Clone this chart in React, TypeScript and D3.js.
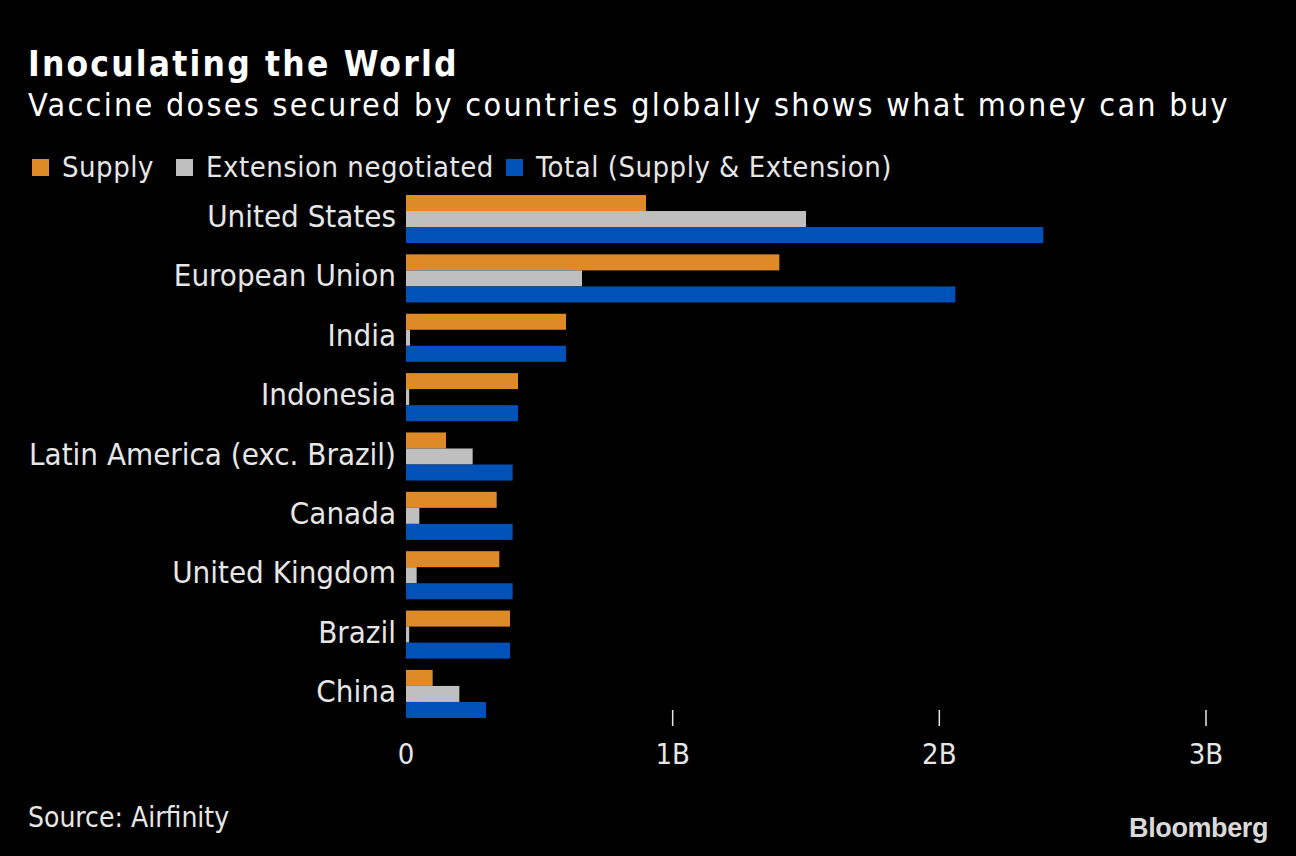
import React from "react";
import * as d3 from "d3";

const categories = [
  "United States",
  "European Union",
  "India",
  "Indonesia",
  "Latin America (exc. Brazil)",
  "Canada",
  "United Kingdom",
  "Brazil",
  "China",
];
const supply = [0.9, 1.4, 0.6, 0.42, 0.15, 0.34, 0.35, 0.39, 0.1];
const extension = [1.5, 0.66, 0.015, 0.012, 0.25, 0.05, 0.04, 0.012, 0.2];
const total = [2.39, 2.06, 0.6, 0.42, 0.4, 0.4, 0.4, 0.39, 0.3];
const seriesNames = ["Supply", "Extension negotiated", "Total (Supply & Extension)"];
const seriesColors = ["#dd8a27", "#bfbfbf", "#0051b8"];
const tickValues = [0, 1, 2, 3];
const tickLabels = ["0", "1B", "2B", "3B"];

const FONT = "'DejaVu Sans Condensed', 'Liberation Sans Narrow', 'DejaVu Sans', sans-serif";

export default function App() {
  const W = 1296, H = 856;
  const x = d3.scaleLinear().domain([0, 3]).range([406, 1206]);
  const y = d3.scaleBand().domain(categories).range([195, 718]).paddingInner(0.19).paddingOuter(0);
  const sub = d3.scaleBand().domain(seriesNames).range([0, y.bandwidth()]);
  const series = [supply, extension, total];
  const legendX = [32, 176, 506];

  return (
    <svg width={W} height={H} style={{ display: "block", position: "absolute", left: 0, top: 0, background: "#000" }}>
      <rect width={W} height={H} fill="#000" />
      <text x={28} y={76} fill="#fff" fontFamily={FONT} fontWeight="bold" fontSize={35} letterSpacing={2.2}>Inoculating the World</text>
      <text x={28} y={116} fill="#fff" fontFamily={FONT} fontSize={32} letterSpacing={2.3}>Vaccine doses secured by countries globally shows what money can buy</text>
      {seriesNames.map((s, i) => (
        <g key={s}>
          <rect x={legendX[i]} y={159} width={17} height={17} fill={seriesColors[i]} />
          <text x={legendX[i] + 30} y={177} fill="#e6e6e6" fontFamily={FONT} fontSize={29} letterSpacing={0.5}>{s}</text>
        </g>
      ))}
      {categories.map((c, ci) => (
        <g key={c}>
          <text x={396} y={(y(c) as number) + y.bandwidth() / 2 + 8} textAnchor="end" fill="#e6e6e6" fontFamily={FONT} fontSize={31}>{c}</text>
          {series.map((vals, si) => (
            <rect key={si} x={x(0)} y={(y(c) as number) + (sub(seriesNames[si]) as number)} width={x(vals[ci]) - x(0)} height={sub.bandwidth()} fill={seriesColors[si]} />
          ))}
        </g>
      ))}
      {tickValues.map((t, i) => (
        <g key={t}>
          {t > 0 && <line x1={x(t)} x2={x(t)} y1={710} y2={726} stroke="#e6e6e6" strokeWidth={1.5} />}
          <text x={x(t)} y={764} textAnchor="middle" fill="#e6e6e6" fontFamily={FONT} fontSize={29}>{tickLabels[i]}</text>
        </g>
      ))}
      <text x={28} y={827} fill="#e6e6e6" fontFamily={FONT} fontSize={28}>Source: Airfinity</text>
      <text x={1268} y={837} textAnchor="end" fill="#d9d9d9" fontFamily="'Liberation Sans Narrow', 'Liberation Sans', sans-serif" fontWeight="bold" fontSize={27} letterSpacing={-0.4}>Bloomberg</text>
    </svg>
  );
}
